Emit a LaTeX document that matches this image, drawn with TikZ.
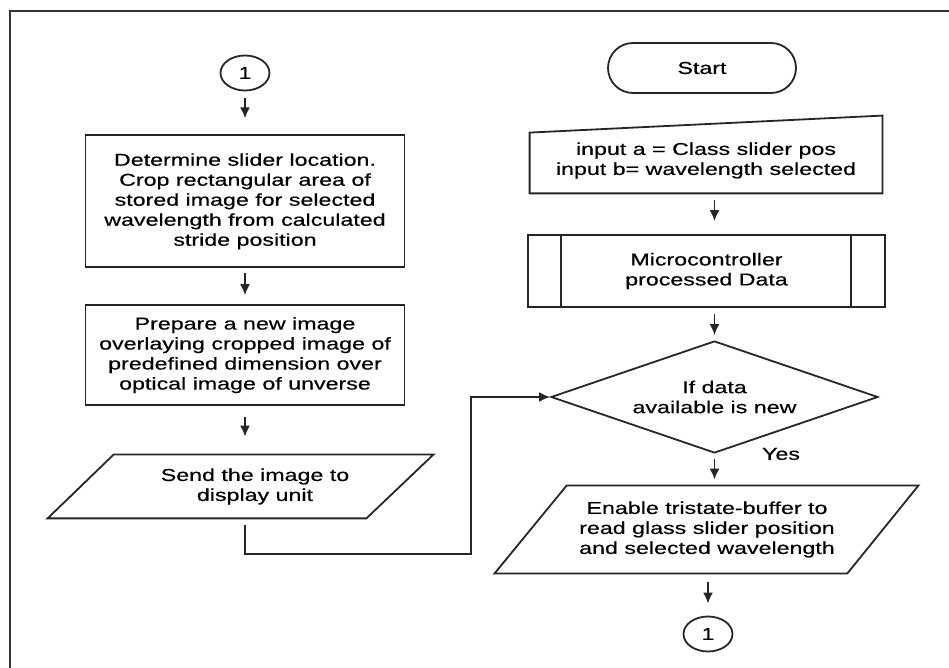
\documentclass[tikz,border=0pt]{standalone}
\usepackage{fontspec}
\setmainfont{Liberation Sans}[FakeStretch=1.35,FakeBold=0.4]
\usetikzlibrary{shapes.geometric,shapes.misc}
\usetikzlibrary{arrows.meta}
\usetikzlibrary{positioning}

\begin{document}
\begin{tikzpicture}[x=0.5pt,y=-0.5pt,
    every node/.style={font=\fontsize{8.6}{10}\selectfont,align=center,inner sep=0pt},
    outline/.style={draw=black!85,line width=0.9pt},
    conn/.style={outline,ellipse,minimum width=24.5pt,minimum height=17.5pt},
    procbox/.style={outline,rectangle,minimum width=159.5pt},
    flow/.style={draw=black!85,line width=0.9pt,-{Latex[length=5.5pt,width=5pt]}}]
    \useasboundingbox (0,0) rectangle (949,668);
    \draw[line width=1pt,black!80] (10,668) -- (10,11) -- (949,11);

    % Left column
    \node [conn] (c1) at (245,73) {1};
    \node [procbox,minimum height=66pt,below=21.5pt of c1] (loc) {Determine slider location.\\Crop rectangular area of\\stored image for selected\\wavelength from calculated\\stride position};
    \node [procbox,minimum height=50pt,below=18pt of loc] (prep) {Prepare a new image\\overlaying cropped image of\\predefined dimension over\\optical image of unverse};
    \node [minimum width=159.5pt,minimum height=31.5pt] (send) at (255,486.5) {Send the image to\\display unit};
    \draw [outline] ([xshift=-23.75pt]send.south west) -- ([xshift=-24.25pt]send.south east) -- ([xshift=9.25pt]send.north east) -- ([xshift=9.25pt]send.north west) -- cycle;
    \coordinate (bend) at (471,554);

    % Right column
    \node [outline,rounded rectangle,minimum width=94pt,minimum height=25pt] (start) at (702,68) {Start};
    \node [minimum width=176pt,minimum height=32.5pt] (in1) at (706,160.5) {input a = Class slider pos\\input b= wavelength selected};
    \draw [outline] ([yshift=-2.5pt]in1.north west) -- ([yshift=6pt]in1.north east) -- (in1.south east) -- (in1.south west) -- cycle;
    \node [outline,minimum width=178.5pt,minimum height=36pt] (mcu) at (706.5,271) {Microcontroller\\processed Data};
    \draw [outline] ([xshift=17pt]mcu.north west) -- ([xshift=17pt]mcu.south west);
    \draw [outline] ([xshift=-17.5pt]mcu.north east) -- ([xshift=-17.5pt]mcu.south east);
    \node [outline,diamond,aspect=2.9,inner sep=2pt,minimum width=163.5pt,minimum height=56pt] (dec) at (714.5,397) {If data\\available is new};
    \node (yes) at (781,454) {Yes};
    \node [minimum width=176pt,minimum height=43.5pt] (buf) at (707,529.5) {Enable tristate-buffer to\\read glass slider position\\and selected wavelength};
    \draw [outline] ([xshift=-18pt]buf.south west) -- ([xshift=-18pt]buf.south east) -- ([xshift=17.5pt]buf.north east) -- ([xshift=18pt]buf.north west) -- cycle;
    \node [conn] (c2) at (708,634) {1};

    % Connectors
    \draw [flow,shorten <=3.25pt,shorten >=8pt] (c1) -- (loc);
    \draw [flow,shorten <=2.5pt,shorten >=4.5pt] (loc) -- (prep);
    \draw [flow,shorten <=5.5pt,shorten >=9pt] (prep.south) -- (prep.south |- send.north);
    \draw [flow,shorten <=3.5pt] (send.south -| c1) |- (bend) |- (dec.west);
    \draw [flow,shorten <=3.5pt,shorten >=6.5pt] (in1.south -| dec.north) -- (mcu.north -| dec.north);
    \draw [flow,shorten <=3pt,shorten >=2.5pt] (mcu.south -| dec.north) -- (dec.north);
    \draw [flow,shorten <=2.5pt,shorten >=3pt] (dec.south) -- (dec.south |- buf.north);
    \draw [flow,shorten <=4.5pt,shorten >=6pt] (buf.south -| c2.north) -- (c2.north);
\end{tikzpicture}
\end{document}
